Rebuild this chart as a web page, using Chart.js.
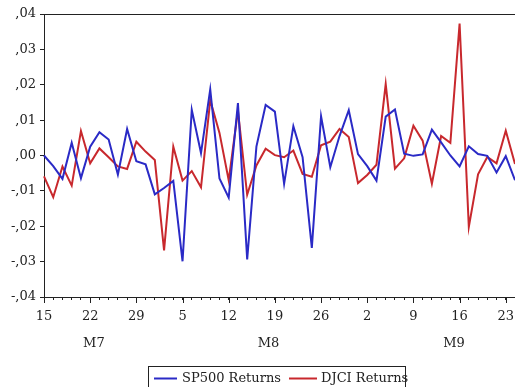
<!DOCTYPE html>
<html>
<head>
<meta charset="utf-8">
<script src="https://cdn.jsdelivr.net/npm/chart.js@4.4.1/dist/chart.umd.min.js"></script>
<style>
  html, body { margin: 0; padding: 0; background: #ffffff; }
  #wrap { width: 515px; height: 387px; position: relative; overflow: hidden; }
</style>
</head>
<body>
<div id="wrap"><canvas id="chart" width="515" height="387"></canvas></div>
<script>
// Trading days, 15 July to 24 September (day of month)
const days = [
  15, 16, 17, 18, 19, 22, 23, 24, 25, 26, 29, 30, 31,
  1, 2, 5, 6, 7, 8, 9, 12, 13, 14, 15, 16, 19, 20, 21, 22, 23, 26, 27, 28, 29, 30,
  2, 3, 4, 5, 6, 9, 10, 11, 12, 13, 16, 17, 18, 19, 20, 23, 24
];
const monthNames = ['M7', 'M8', 'M9'];

// Daily returns
const sp500Returns = [
  0.0000, -0.0030, -0.0066, 0.0036, -0.0064, 0.0025, 0.0066, 0.0045, -0.0054, 0.0075,
  -0.0016, -0.0025, -0.0110, -0.0092, -0.0072, -0.0299, 0.0129, 0.0007, 0.0187, -0.0065,
  -0.0119, 0.0148, -0.0294, 0.0025, 0.0143, 0.0124, -0.0080, 0.0083, -0.0005, -0.0261,
  0.0111, -0.0033, 0.0055, 0.0128, 0.0004, -0.0030, -0.0071, 0.0110, 0.0130, 0.0005,
  -0.0001, 0.0003, 0.0073, 0.0037, 0.0000, -0.0031, 0.0026, 0.0004, -0.0001, -0.0048,
  -0.0002, -0.0070
];
const djciReturns = [
  -0.0059, -0.0118, -0.0031, -0.0085, 0.0069, -0.0022, 0.0020, -0.0005, -0.0031, -0.0038,
  0.0039, 0.0011, -0.0013, -0.0268, 0.0025, -0.0071, -0.0044, -0.0090, 0.0156, 0.0064,
  -0.0070, 0.0127, -0.0111, -0.0028, 0.0019, 0.0001, -0.0005, 0.0014, -0.0052, -0.0060,
  0.0029, 0.0039, 0.0075, 0.0052, -0.0078, -0.0055, -0.0026, 0.0202, -0.0037, -0.0008,
  0.0084, 0.0042, -0.0080, 0.0055, 0.0036, 0.0373, -0.0202, -0.0053, -0.0004, -0.0022,
  0.0070, -0.0024
];

const seriesNames = ['SP500 Returns', 'DJCI Returns'];
const seriesColors = ['#2a2ac6', '#c8282d'];

// Layout of the month captions (category index units) and fonts
const monthLabelAt = [5.4, 24.3, 44.4];
const FONT = 'DejaVu Serif';
const INK = '#222222';

function fmtY(v) {
  const s = Math.abs(v).toFixed(2).replace(/^0\./, ',');
  return (v < -1e-9 ? '-' : '') + s;
}

// Frame line, major ticks, month captions and the boxed legend
const decorations = {
  id: 'decorations',
  afterDraw(chart) {
    const { ctx, chartArea: a, scales } = chart;
    const xs = scales.x;
    ctx.save();
    ctx.strokeStyle = INK;
    ctx.lineWidth = 1;
    // top frame
    ctx.beginPath();
    ctx.moveTo(a.left, Math.round(a.top) + 0.5);
    ctx.lineTo(a.right, Math.round(a.top) + 0.5);
    ctx.stroke();
    // longer ticks at labelled days
    ctx.beginPath();
    days.forEach((d, i) => {
      if (i % 5 === 0) {
        const px = Math.round(xs.getPixelForValue(i)) + 0.5;
        ctx.moveTo(px, a.bottom);
        ctx.lineTo(px, a.bottom + 6);
      }
    });
    ctx.stroke();
    // month captions
    ctx.fillStyle = INK;
    ctx.font = '13px "' + FONT + '"';
    ctx.textAlign = 'center';
    ctx.textBaseline = 'middle';
    monthNames.forEach((m, k) => {
      ctx.fillText(m, xs.getPixelForValue(monthLabelAt[k]), 344);
    });
    // legend box
    const bx = 148.5, by = 366.5, bw = 257, bh = 30;
    ctx.strokeRect(bx, by, bw, bh);
    const items = [
      { x0: 154, x1: 177, tx: 182 },
      { x0: 289, x1: 317, tx: 321 }
    ];
    items.forEach((it, k) => {
      ctx.strokeStyle = seriesColors[k];
      ctx.lineWidth = 2;
      ctx.beginPath();
      ctx.moveTo(it.x0, 378.5);
      ctx.lineTo(it.x1, 378.5);
      ctx.stroke();
      ctx.fillStyle = INK;
      ctx.textAlign = 'left';
      ctx.fillText(seriesNames[k], it.tx, 379);
    });
    ctx.restore();
  }
};

new Chart(document.getElementById('chart'), {
  type: 'line',
  data: {
    labels: days.map(String),
    datasets: [
      {
        label: seriesNames[0],
        data: sp500Returns,
        borderColor: seriesColors[0],
        borderWidth: 2,
        pointRadius: 0,
        tension: 0,
        fill: false
      },
      {
        label: seriesNames[1],
        data: djciReturns,
        borderColor: seriesColors[1],
        borderWidth: 2,
        pointRadius: 0,
        tension: 0,
        fill: false
      }
    ]
  },
  options: {
    responsive: false,
    animation: false,
    devicePixelRatio: 1,
    layout: { padding: { top: 14, right: 0, left: 0, bottom: 0 } },
    plugins: {
      legend: { display: false },
      tooltip: { enabled: false }
    },
    scales: {
      x: {
        type: 'category',
        offset: false,
        afterFit(scale) {
          scale.height = 90;
          scale.paddingLeft = 0;
          scale.paddingRight = 0;
        },
        grid: {
          display: true,
          drawOnChartArea: false,
          drawTicks: true,
          tickLength: 3,
          tickColor: INK
        },
        border: { display: true, color: INK, width: 1 },
        ticks: {
          autoSkip: false,
          maxRotation: 0,
          minRotation: 0,
          padding: 9,
          color: INK,
          font: { family: FONT, size: 13 },
          callback(value, index) {
            return index % 5 === 0 ? String(days[index]) : '';
          }
        }
      },
      y: {
        min: -0.04,
        max: 0.04,
        afterFit(scale) {
          scale.width = 44;
          scale.paddingTop = 0;
          scale.paddingBottom = 0;
        },
        grid: {
          display: true,
          drawOnChartArea: false,
          drawTicks: true,
          tickLength: 4,
          tickColor: INK
        },
        border: { display: true, color: INK, width: 1 },
        ticks: {
          stepSize: 0.01,
          padding: 4,
          color: INK,
          font: { family: FONT, size: 13 },
          callback(value) { return fmtY(value); }
        }
      }
    }
  },
  plugins: [decorations]
});
</script>
</body>
</html>
